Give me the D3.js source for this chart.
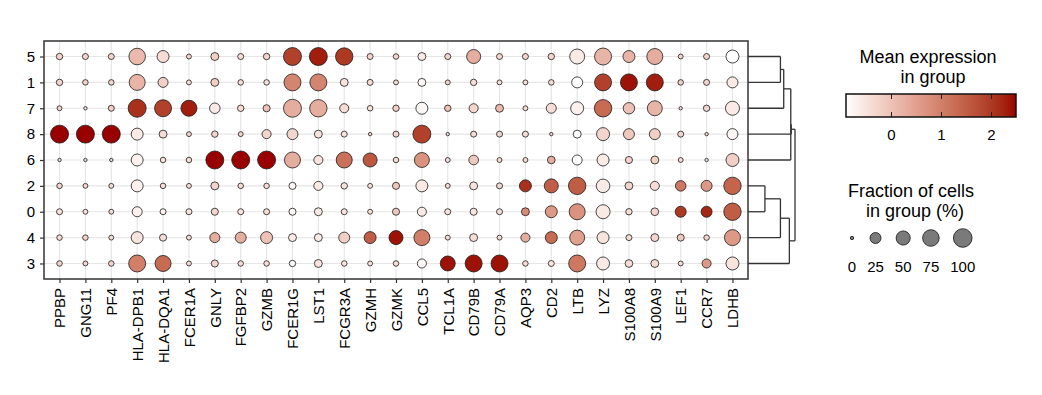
<!DOCTYPE html>
<html>
<head>
<meta charset="utf-8">
<script src="https://cdn.jsdelivr.net/npm/d3@7"></script>
<style>
  body { margin: 0; background: #fff; }
  text { font-family: "Liberation Sans", Arial, sans-serif; fill: #000; }
</style>
</head>
<body>
<div id="dotplot"></div>
<script>
// genes on x, clusters on y (top to bottom)
var genes = ["PPBP","GNG11","PF4","HLA-DPB1","HLA-DQA1","FCER1A","GNLY","FGFBP2","GZMB",
             "FCER1G","LST1","FCGR3A","GZMH","GZMK","CCL5","TCL1A","CD79B","CD79A",
             "AQP3","CD2","LTB","LYZ","S100A8","S100A9","LEF1","CCR7","LDHB"];
var clusters = ["5","1","7","8","6","2","0","4","3"];

// fraction of cells in group (%), one row per cluster
var pctExpr = [
  [4,3,3,75,32,1,9,3,4, 92,92,85,3,2,9,3,49,3, 3,4,58,80,32,69,1,3,40],
  [4,2,2,69,19,1,9,2,2, 80,80,9,3,1,9,1,4,1, 1,2,25,80,80,80,2,3,25],
  [1,0,3,92,80,69,22,4,6, 92,85,14,2,4,32,4,14,9, 1,19,40,85,28,58,0,4,49],
  [92,92,92,32,9,1,4,1,14, 25,9,3,0,3,92,0,3,3, 3,0,9,40,25,25,3,0,25],
  [0,0,0,32,2,2,92,92,92, 69,14,69,49,2,58,1,17,1, 1,8,19,32,6,9,1,0,40],
  [2,1,1,32,2,1,9,2,2, 6,14,4,1,6,32,1,9,3, 32,49,85,45,9,14,22,25,85],
  [3,1,1,19,3,3,6,3,3, 6,9,3,1,6,14,3,6,3, 9,32,69,49,4,8,25,25,85],
  [2,2,1,32,6,1,19,25,32, 9,9,25,32,49,69,1,9,1, 14,32,58,32,3,9,6,2,69],
  [2,1,2,80,69,1,6,2,2, 4,9,2,1,2,14,58,80,80, 2,3,80,40,8,9,1,14,40]
];

// mean expression in group (scaled), one row per cluster
var meanExpr = [
  [-0.3,-0.3,-0.3,0.1,-0.4,-0.3,-0.2,-0.4,-0.3, 1.9,2.3,2.0,-0.3,-0.3,-0.6,-0.3,0.3,-0.3, -0.3,-0.3,-0.6,0.2,0.2,0.3,-0.3,-0.3,-0.9],
  [-0.3,-0.3,-0.3,0.2,-0.2,-0.4,-0.2,-0.4,-0.5, 0.9,0.9,-0.5,-0.4,-0.4,-0.8,-0.3,-0.4,-0.4, -0.4,-0.4,-0.9,1.9,2.4,2.3,-0.2,-0.3,-0.6],
  [-0.3,-0.4,-0.2,2.1,1.9,2.3,-0.6,-0.4,0.0, 0.3,0.3,-0.4,-0.5,-0.2,-0.8,0.0,-0.3,0.1, -0.4,-0.4,-0.7,1.3,0.0,0.2,-0.4,-0.3,-0.6],
  [2.5,2.5,2.5,-0.6,-0.4,-0.3,-0.3,-0.3,-0.3, -0.3,-0.5,-0.5,-0.3,-0.3,1.9,-0.3,-0.4,-0.3, -0.4,-0.3,-0.9,-0.3,-0.1,-0.2,-0.3,-0.3,-0.8],
  [-0.4,-0.4,-0.4,-0.7,-0.5,-0.4,2.5,2.5,2.5, 0.3,-0.5,1.2,1.6,-0.4,0.7,-0.4,-0.1,-0.4, -0.4,0.3,-0.9,-0.6,-0.3,-0.2,-0.4,-0.4,-0.2],
  [-0.3,-0.3,-0.4,-0.7,-0.4,-0.4,-0.3,-0.4,-0.4, -0.8,-0.6,-0.5,-0.5,-0.1,-0.6,-0.4,-0.5,-0.3, 2.1,1.5,1.5,-0.6,-0.3,-0.4,1.1,0.6,1.4],
  [-0.5,-0.5,-0.4,-0.7,-0.7,-0.5,-0.3,-0.5,-0.4, -0.8,-0.6,-0.5,-0.5,-0.1,-0.6,-0.5,-0.5,-0.4, 0.8,0.6,0.7,-0.6,-0.4,-0.3,2.0,2.2,1.5],
  [-0.4,-0.3,-0.4,-0.5,-0.4,-0.4,0.3,0.3,0.0, -0.6,-0.6,-0.2,1.5,2.4,1.0,-0.4,-0.4,-0.4, 0.3,1.3,0.5,-0.5,-0.4,-0.3,-0.1,-0.3,0.6],
  [-0.3,-0.3,-0.3,1.0,1.3,-0.4,-0.3,-0.4,-0.4, -0.8,-0.5,-0.5,-0.5,-0.4,-0.8,2.4,2.4,2.4, -0.4,-0.5,1.1,-0.6,-0.4,-0.4,-0.4,0.6,-0.5]
];

// row dendrogram merges: [left, right, height]
var merges = [
  ["5","1",3.45],
  ["n0","7",3.8],
  ["n1","6",4.55],
  ["n2","8",4.6],
  ["2","0",1.8],
  ["n4","4",3.45],
  ["n5","3",4.4],
  ["n3","n6",5.0]
];

var colorTicks = [0, 1, 2];
var colorRange = [-0.91, 2.49];
var sizeBreaks = [0, 25, 50, 75, 100];

var W = 1042, H = 395;
var panel = {left: 44, right: 748, top: 41, bottom: 279};

var svg = d3.select("#dotplot").append("svg")
  .attr("width", W).attr("height", H);

var x = d3.scalePoint().domain(genes).range([panel.left, panel.right]).padding(0.6);
var y = d3.scalePoint().domain(clusters).range([panel.top, panel.bottom]).padding(0.6);

var color = d3.scaleSequential(d3.interpolateLab("#ffffff", "#990000")).domain(colorRange);
// ggplot-like area palette: radius linear in sqrt(pct)
var size = d3.scaleLinear().domain([0, 10]).range([1.7, 9.3]);
function radius(p) { return size(Math.sqrt(p)); }

// grid
var grid = svg.append("g");
grid.selectAll(".gx").data(genes).enter().append("line")
  .attr("x1", d => x(d)).attr("x2", d => x(d))
  .attr("y1", panel.top).attr("y2", panel.bottom)
  .attr("stroke", "#e6e6e6").attr("stroke-width", 1.2);
grid.selectAll(".gy").data(clusters).enter().append("line")
  .attr("y1", d => y(d)).attr("y2", d => y(d))
  .attr("x1", panel.left).attr("x2", panel.right)
  .attr("stroke", "#e6e6e6").attr("stroke-width", 1.2);

// dots
var cells = [];
clusters.forEach(function(c, i) {
  genes.forEach(function(g, j) {
    cells.push({cluster: c, gene: g, pct: pctExpr[i][j], val: meanExpr[i][j]});
  });
});
svg.append("g").selectAll("circle").data(cells).enter().append("circle")
  .attr("cx", d => x(d.gene))
  .attr("cy", d => y(d.cluster))
  .attr("r", d => radius(d.pct))
  .attr("fill", d => color(d.val))
  .attr("stroke", "#1a1a1a")
  .attr("stroke-width", 0.8);

// panel border
svg.append("rect")
  .attr("x", panel.left).attr("y", panel.top)
  .attr("width", panel.right - panel.left).attr("height", panel.bottom - panel.top)
  .attr("fill", "none").attr("stroke", "#333").attr("stroke-width", 1.5);

// axes
var yAxis = svg.append("g")
  .attr("transform", "translate(" + panel.left + ",0)")
  .call(d3.axisLeft(y).tickSize(4).tickPadding(5));
var xAxis = svg.append("g")
  .attr("transform", "translate(0," + panel.bottom + ")")
  .call(d3.axisBottom(x).tickSize(4).tickPadding(5));
[xAxis, yAxis].forEach(function(a) {
  a.select(".domain").remove();
  a.selectAll(".tick line").attr("stroke", "#333").attr("stroke-width", 1.2);
  a.selectAll("text").style("font-size", "15px").attr("fill", "#000");
});
xAxis.selectAll("text")
  .attr("transform", "rotate(-90)")
  .attr("x", -9).attr("y", 0).attr("dy", "0.35em")
  .style("text-anchor", "end");

// dendrogram
var dx = d3.scaleLinear().domain([0, 5]).range([panel.right, 795]);
var nodes = {};
clusters.forEach(function(c) { nodes[c] = {y: y(c), h: 0}; });
var dendro = svg.append("g").attr("stroke", "#333").attr("stroke-width", 1.3).attr("fill", "none");
merges.forEach(function(m, i) {
  var a = nodes[m[0]], b = nodes[m[1]], h = m[2];
  dendro.append("line").attr("x1", dx(a.h)).attr("x2", dx(h)).attr("y1", a.y).attr("y2", a.y);
  dendro.append("line").attr("x1", dx(b.h)).attr("x2", dx(h)).attr("y1", b.y).attr("y2", b.y);
  dendro.append("line").attr("x1", dx(h)).attr("x2", dx(h)).attr("y1", a.y).attr("y2", b.y);
  nodes["n" + i] = {y: (a.y + b.y) / 2, h: h};
});

// colour legend
var leg = svg.append("g");
leg.append("text").attr("x", 928).attr("y", 63).attr("text-anchor", "middle")
  .style("font-size", "18px").text("Mean expression");
leg.append("text").attr("x", 933).attr("y", 83).attr("text-anchor", "middle")
  .style("font-size", "18px").text("in group");

var bar = {x0: 846, x1: 1016, y0: 94, y1: 117};
var cx = d3.scaleLinear().domain(colorRange).range([bar.x0, bar.x1]);
var grad = svg.append("defs").append("linearGradient").attr("id", "grad");
d3.range(0, 1.0001, 0.05).forEach(function(t) {
  grad.append("stop").attr("offset", (t * 100) + "%")
    .attr("stop-color", color(colorRange[0] + t * (colorRange[1] - colorRange[0])));
});
leg.append("rect").attr("x", bar.x0).attr("y", bar.y0)
  .attr("width", bar.x1 - bar.x0).attr("height", bar.y1 - bar.y0)
  .attr("fill", "url(#grad)");
colorTicks.forEach(function(t) {
  leg.append("line").attr("x1", cx(t)).attr("x2", cx(t)).attr("y1", bar.y0).attr("y2", bar.y0 + 5)
    .attr("stroke", "#222").attr("stroke-width", 1);
  leg.append("line").attr("x1", cx(t)).attr("x2", cx(t)).attr("y1", bar.y1 - 5).attr("y2", bar.y1)
    .attr("stroke", "#222").attr("stroke-width", 1);
  leg.append("text").attr("x", cx(t)).attr("y", 140).attr("text-anchor", "middle")
    .style("font-size", "15px").text(t);
});
leg.append("rect").attr("x", bar.x0).attr("y", bar.y0)
  .attr("width", bar.x1 - bar.x0).attr("height", bar.y1 - bar.y0)
  .attr("fill", "none").attr("stroke", "#111").attr("stroke-width", 1.5);

// size legend
leg.append("text").attr("x", 911).attr("y", 197).attr("text-anchor", "middle")
  .style("font-size", "18px").text("Fraction of cells");
leg.append("text").attr("x", 915).attr("y", 217).attr("text-anchor", "middle")
  .style("font-size", "18px").text("in group (%)");

var keys = leg.selectAll(".key").data(sizeBreaks).enter().append("g");
var labels = keys.append("text").attr("y", 272).attr("text-anchor", "middle")
  .style("font-size", "15px").text(d => d);
var pos = 852, prevW = null;
keys.each(function(d, i) {
  var w = Math.max(2 * radius(d), labels.nodes()[i].getComputedTextLength());
  if (prevW !== null) pos += prevW / 2 + 11 + w / 2;
  prevW = w;
  d3.select(this).attr("transform", "translate(" + pos + ",0)");
});
keys.append("circle").attr("cx", 0).attr("cy", 238).attr("r", d => radius(d))
  .attr("fill", "#7a7a7a").attr("stroke", "#111").attr("stroke-width", 0.8);
</script>
</body>
</html>
